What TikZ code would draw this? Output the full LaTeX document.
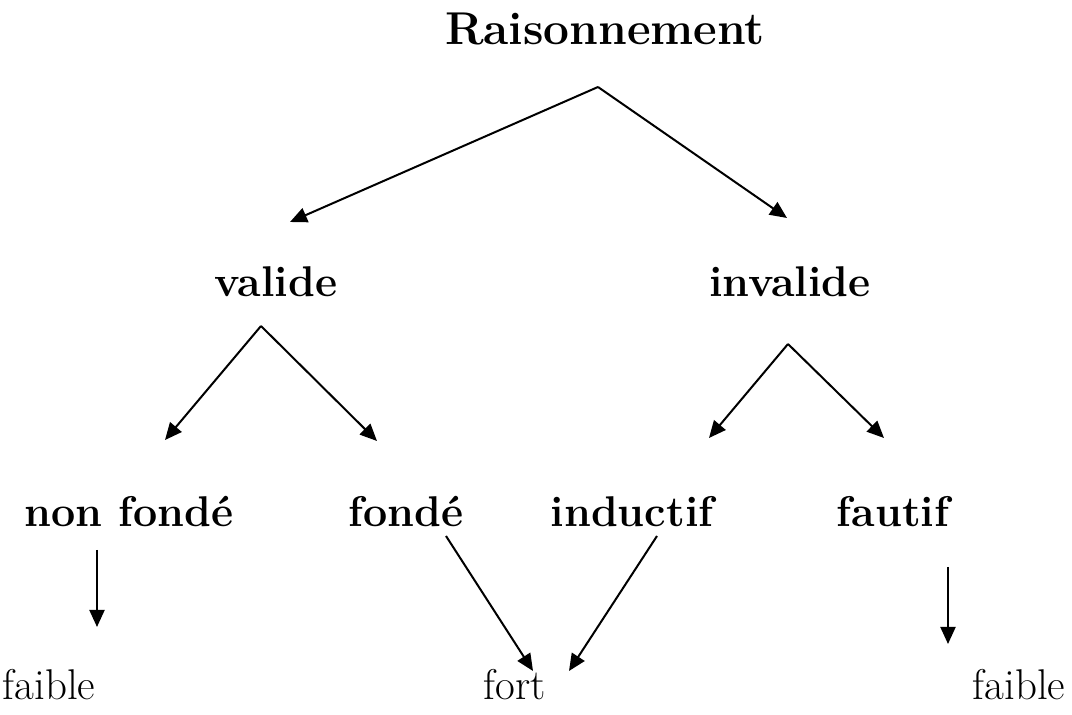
\documentclass[tikz,border=0pt]{standalone}
\usepackage{tikz}
\usetikzlibrary{arrows.meta}

\begin{document}
\begin{tikzpicture}[x=0.5pt,y=-0.5pt,
    cat/.style={font=\fontsize{21.5}{25}\selectfont\bfseries,anchor=base,inner sep=0pt},
    leaf/.style={font=\fontsize{21.5}{25}\selectfont,anchor=base,inner sep=0pt},
    fleche/.style={line width=1pt,-{Triangle[length=8.5pt,width=7.5pt]}}]
  \useasboundingbox (0,0) rectangle (1072,715);
  % titre
  \node[cat,font=\fontsize{23}{27}\selectfont\bfseries] (rais) at (605,45) {Raisonnement};
  % niveau 1
  \node[cat] (valide) at (276,297) {valide};
  \node[cat] (invalide) at (790,297) {invalide};
  % niveau 2
  \node[cat] (nonfonde) at (129,527) {non fond\'e};
  \node[cat] (fonde) at (406,527) {fond\'e};
  \node[cat] (inductif) at (632,527) {inductif};
  \node[cat] (fautif) at (893,527) {fautif};
  % feuilles
  \node[leaf] (faibleA) at (49,700) {faible};
  \node[leaf] (fort) at (515,700) {fort};
  \node[leaf] (faibleB) at (1019,700) {faible};
  % fleches
  \foreach \xa/\ya/\xb/\yb [count=\i] in {
      598/87/290/222, 598/87/787/218,
      261/326/165/440, 261/326/377/441,
      788/344/709/438, 788/344/884/438,
      97/550/97/627, 446/536/533/671,
      657/536/569/671, 948/567/948/644}{
    \coordinate (d\i) at (\xa,\ya);
    \coordinate (f\i) at (\xb,\yb);
    \draw[fleche] (d\i) -- (f\i);
  }
\end{tikzpicture}
\end{document}
